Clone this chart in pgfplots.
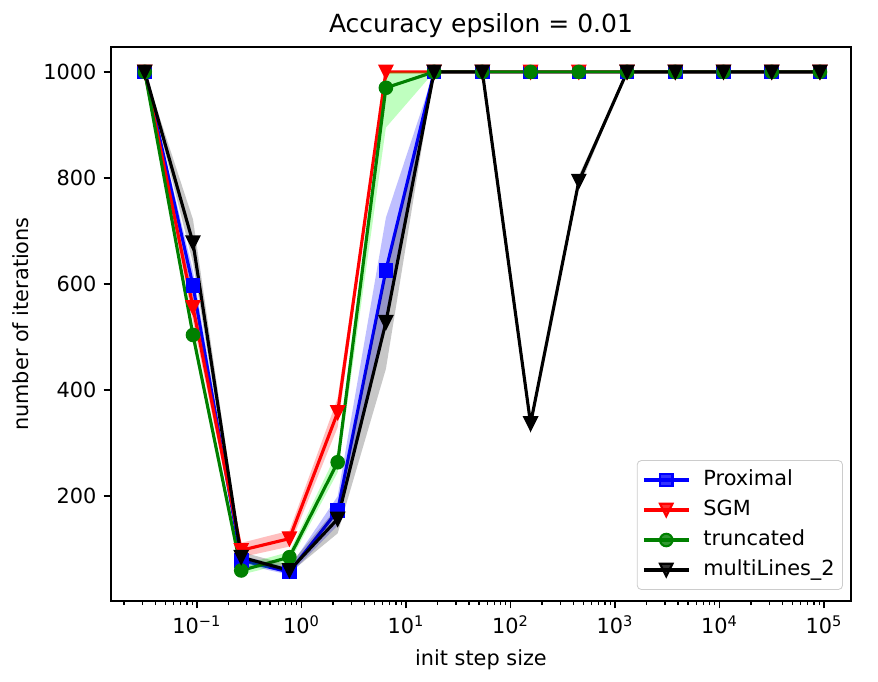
\documentclass[border=0pt]{standalone}
\usepackage{fontspec}
\setmainfont{DejaVu Sans}
\usepackage{pgfplots}
\pgfplotsset{compat=1.18}
\definecolor{mplgreen}{rgb}{0,0.5,0}
\definecolor{limeg}{rgb}{0,1,0}
\definecolor{leggray}{rgb}{0.8,0.8,0.8}
\pgfdeclareplotmark{tridown}{%
  \pgfpathmoveto{\pgfqpoint{0pt}{-\pgfplotmarksize}}%
  \pgfpathlineto{\pgfqpoint{-\pgfplotmarksize}{\pgfplotmarksize}}%
  \pgfpathlineto{\pgfqpoint{\pgfplotmarksize}{\pgfplotmarksize}}%
  \pgfpathclose\pgfusepathqfillstroke}
\begin{document}
\begin{tikzpicture}
\path[use as bounding box] (-53.28pt,-38.88pt) rectangle (368.16pt,288.46pt);
\begin{axis}[
  at={(0,0)}, anchor=south west,
  scale only axis, width=355.2pt, height=265.92pt,
  xmode=log, xmin=0.01503, xmax=1.811e5,
  ymin=2.5, ymax=1047,
  axis line style={line width=0.8pt},
  tick align=outside, xtick pos=lower, ytick pos=left,
  major tick length=3.5pt, minor tick length=2pt,
  every tick/.style={black, line width=0.8pt},
  minor tick style={black, line width=0.6pt},
  xtick={0.1,1,10,100,1000,10000,100000},
  xticklabels={10\textsuperscript{−1},10\textsuperscript{0},10\textsuperscript{1},10\textsuperscript{2},10\textsuperscript{3},10\textsuperscript{4},10\textsuperscript{5}},
  minor xtick={0.02,0.03,0.04,0.05,0.06,0.07,0.08,0.09,0.2,0.3,0.4,0.5,0.6,0.7,0.8,0.9,2,3,4,5,6,7,8,9,20,30,40,50,60,70,80,90,200,300,400,500,600,700,800,900,2000,3000,4000,5000,6000,7000,8000,9000,2e4,3e4,4e4,5e4,6e4,7e4,8e4,9e4},
  ytick={200,400,600,800,1000},
  /pgf/number format/assume math mode=true,
  /pgf/number format/1000 sep={},
  tick label style={font=\fontsize{10}{12}\selectfont},
  title={Accuracy epsilon = 0.01},
  title style={at={(axis description cs:0.5,1)}, anchor=south, yshift=-5pt, font=\fontsize{12}{14}\selectfont},
  xlabel={init step size},
  xlabel style={at={(axis description cs:0.5,-0.0681)}, anchor=north, yshift=-1.8pt, font=\fontsize{10}{12}\selectfont},
  ylabel={number of iterations},
  ylabel style={at={(axis description cs:-0.101,0.5)}, anchor=south, rotate=0, font=\fontsize{10}{12}\selectfont},
  legend style={at={(1,0)}, anchor=south east, xshift=-3.85pt, yshift=5.3pt,
    draw=leggray, rounded corners=2pt, fill=white, fill opacity=0.8, text opacity=1,
    font=\fontsize{10}{12}\selectfont, inner xsep=2.4pt, inner ysep=2.95pt,
    row sep=1.6pt,
    nodes={inner sep=1.4pt, text height=7.6pt, text depth=2.4pt},
    /tikz/every odd column/.append style={column sep=4.9pt},
    cells={anchor=west}},
  legend image code/.code={\draw[mark repeat=2,mark phase=2] plot coordinates {(0pt,0pt) (10.8pt,0pt) (21.6pt,0pt)};},
]
% Proximal
\addplot[draw=none, fill=blue, fill opacity=0.25, forget plot] coordinates {
 (0.031623,1000) (0.09152,625) (0.26485,88) (0.7665,65) (2.2182,200) (6.4198,725) (18.578,1000)
 (18.578,1000) (6.4198,540) (2.2182,145) (0.7665,52) (0.26485,72) (0.09152,570) (0.031623,1000)};
\addplot[blue, line width=1.5pt, mark=square*, mark size=3pt, mark options={fill=blue, line width=1pt}] coordinates {
 (0.031623,1000) (0.09152,597) (0.26485,79) (0.7665,57) (2.2182,173) (6.4198,626) (18.578,1000) (53.765,1000) (155.60,1000) (450.30,1000) (1303.2,1000) (3771.4,1000) (10914,1000) (31586,1000) (91411,1000)};
\addlegendentry{Proximal}
% SGM
\addplot[draw=none, fill=red, fill opacity=0.25, forget plot] coordinates {
 (0.031623,1000) (0.09152,580) (0.26485,112) (0.7665,135) (2.2182,385) (6.4198,1000) (18.578,1000)
 (18.578,1000) (6.4198,1000) (2.2182,330) (0.7665,105) (0.26485,85) (0.09152,530) (0.031623,1000)};
\addplot[red, line width=1.5pt, mark=tridown, mark size=3pt, mark options={fill=red, line width=1pt}] coordinates {
 (0.031623,1000) (0.09152,556) (0.26485,98) (0.7665,120) (2.2182,358) (6.4198,1000) (18.578,1000) (53.765,1000) (155.60,1000) (450.30,1000) (1303.2,1000) (3771.4,1000) (10914,1000) (31586,1000) (91411,1000)};
\addlegendentry{SGM}
% truncated
\addplot[draw=none, fill=limeg, fill opacity=0.25, forget plot] coordinates {
 (0.031623,1000) (0.09152,520) (0.26485,70) (0.7665,95) (2.2182,285) (6.4198,1000) (18.578,1000)
 (18.578,1000) (6.4198,895) (2.2182,245) (0.7665,75) (0.26485,52) (0.09152,490) (0.031623,1000)};
\addplot[mplgreen, line width=1.5pt, mark=*, mark size=3pt, mark options={fill=mplgreen, line width=1pt}] coordinates {
 (0.031623,1000) (0.09152,504) (0.26485,60) (0.7665,85) (2.2182,264) (6.4198,970) (18.578,1000) (53.765,1000) (155.60,1000) (450.30,1000) (1303.2,1000) (3771.4,1000) (10914,1000) (31586,1000) (91411,1000)};
\addlegendentry{truncated}
% multiLines_2
\addplot[draw=none, fill=black, fill opacity=0.22, forget plot] coordinates {
 (0.031623,1000) (0.09152,722) (0.26485,95) (0.7665,70) (2.2182,180) (6.4198,620) (18.578,1000) (53.765,1000) (155.60,337) (450.30,805) (1303.2,1000)
 (1303.2,1000) (450.30,780) (155.60,337) (53.765,1000) (18.578,1000) (6.4198,440) (2.2182,130) (0.7665,55) (0.26485,78) (0.09152,640) (0.031623,1000)};
\addplot[black, line width=1.5pt, mark=tridown, mark size=3pt, mark options={fill=black, line width=1pt}] coordinates {
 (0.031623,1000) (0.09152,678) (0.26485,85) (0.7665,60) (2.2182,157) (6.4198,528) (18.578,1000) (53.765,1000) (155.60,337) (450.30,794) (1303.2,1000) (3771.4,1000) (10914,1000) (31586,1000) (91411,1000)};
\addlegendentry{multiLines\_2}
\end{axis}
\end{tikzpicture}
\end{document}
